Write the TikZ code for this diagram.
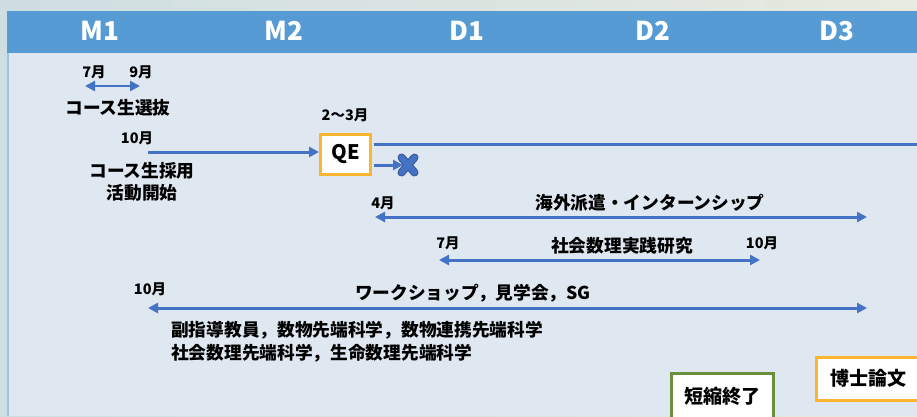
\documentclass[tikz,border=0pt]{standalone}
\usepackage{fontspec}
\setmainfont{Noto Sans CJK JP}
\usetikzlibrary{arrows.meta}
\definecolor{bgl}{HTML}{CFDEE2}
\definecolor{bgr}{HTML}{E7EADF}
\definecolor{panel}{HTML}{DFE7F1}
\definecolor{hdr}{HTML}{569BD4}
\definecolor{pedge}{HTML}{9DC3E6}
\definecolor{ablue}{HTML}{4472C4}
\definecolor{qorange}{HTML}{FBB630}
\definecolor{sgreen}{HTML}{6B8F3F}
\tikzset{
  hdrlab/.style={text=white, font=\fontsize{26}{30}\selectfont\bfseries},
  mon/.style={font=\fontsize{14.5}{16}\selectfont\bfseries, inner sep=0pt},
  lab/.style={font=\fontsize{17.7}{22}\selectfont\bfseries, inner sep=0pt},
  arr/.style={draw=ablue, line width=3pt, -{Triangle[length=10pt,width=10pt]}},
  darr/.style={draw=ablue, line width=3pt, {Triangle[length=10pt,width=10pt]}-{Triangle[length=10pt,width=10pt]}},
  qbox/.style={draw=qorange, line width=3pt, fill=white, inner sep=0pt},
  gbox/.style={draw=sgreen, line width=3pt, fill=white, inner sep=0pt},
}
\begin{document}
\begin{tikzpicture}[x=1pt,y=-1pt]
\useasboundingbox (0,0) rectangle (917,416);
\shade[left color=bgl, right color=bgr] (0,0) rectangle (917,416);
\fill[panel] (7,11) rectangle (917,416);
\fill[hdr] (7,11) rectangle (917,53);
\draw[pedge, line width=2pt] (8,53) -- (8,416);
% header
\node[hdrlab] (m1) at (100,31) {M1};
\node[hdrlab] (m2) at (284,31) {M2};
\node[hdrlab] (d1) at (467,31) {D1};
\node[hdrlab] (d2) at (653,31) {D2};
\node[hdrlab] (d3) at (837,31) {D3};
% selection
\node[mon] (s7) at (94,72) {7月};
\node[mon] (s9) at (141,72) {9月};
\coordinate (sa) at (85,86);
\coordinate (sb) at (140,86);
\draw[darr, line width=2.5pt] (sa) -- (sb);
\node[lab] (sel) at (118,108) {コース生選抜};
% recruitment
\node[mon] (r10) at (137,138) {10月};
\node[lab, align=center] (rec) at (142,182) {コース生採用\\活動開始};
\coordinate (ra) at (148,152);
% QE
\node[mon] (q23) at (345,115) {2〜3月};
\node[qbox, minimum width=50pt, minimum height=40pt, font=\fontsize{20}{24}\selectfont\bfseries] (qe) at (345.5,154.5) {QE};
\draw[arr] (ra) -- (ra -| qe.west);
\coordinate (qend) at (917,144);
\draw[draw=ablue, line width=3pt] (qe.east |- qend) ++(1.5pt,0) -- (qend);
\coordinate (xm) at (408,165);
\draw[arr] ([xshift=1.5pt]qe.east |- xm) -- ([xshift=-5pt]xm);
\node (xmark) at (xm) {};
\draw[ablue!75!black, line width=8pt, line cap=round] ([shift={(-6.5,-7.5)}]xm) -- ([shift={(6.5,7.5)}]xm) ([shift={(-6.5,7.5)}]xm) -- ([shift={(6.5,-7.5)}]xm);
\draw[ablue, line width=6pt, line cap=round] ([shift={(-6.5,-7.5)}]xm) -- ([shift={(6.5,7.5)}]xm) ([shift={(-6.5,7.5)}]xm) -- ([shift={(6.5,-7.5)}]xm);
% overseas
\node[mon] (o4) at (383,203) {4月};
\node[lab] (ovs) at (650,203) {海外派遣・インターンシップ};
\coordinate (oa) at (375,217);
\coordinate (ob) at (867,217);
\draw[darr] (oa) -- (ob);
% practice
\node[mon] (p7) at (448,243) {7月};
\node[lab] (prc) at (622,246) {社会数理実践研究};
\node[mon] (p10) at (762,243) {10月};
\coordinate (pa) at (439,260);
\coordinate (pb) at (760,260);
\draw[darr] (pa) -- (pb);
% workshop
\node[mon] (w10) at (150,289) {10月};
\node[lab] (wsh) at (473,293) {ワークショップ，見学会，SG};
\coordinate (wa) at (148,308);
\coordinate (wb) at (867,308);
\draw[darr] (wa) -- (wb);
\node[lab, anchor=west] (sub1) at (171,330) {副指導教員，数物先端科学，数物連携先端科学};
\node[lab, anchor=west] (sub2) at (171,353) {社会数理先端科学，生命数理先端科学};
% boxes
\node[gbox, minimum width=102pt, minimum height=46pt, font=\fontsize{19}{22}\selectfont\bfseries] (short) at (722.5,396) {短縮終了};
\node[qbox, minimum width=104pt, minimum height=43pt, font=\fontsize{19}{22}\selectfont\bfseries] (phd) at (868,378.5) {博士論文};
\end{tikzpicture}
\end{document}
